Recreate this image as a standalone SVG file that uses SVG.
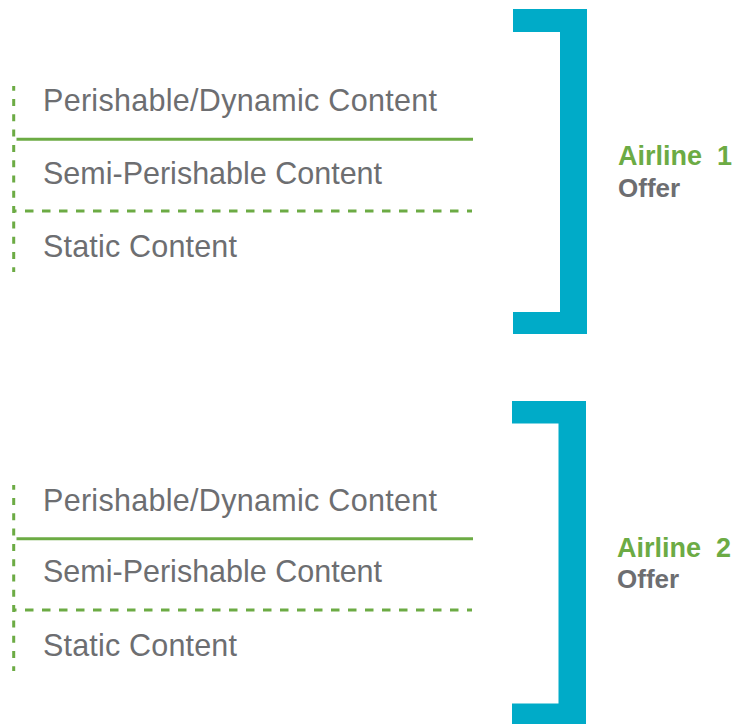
<svg xmlns="http://www.w3.org/2000/svg" width="736" height="724" viewBox="0 0 736 724">
  <style>
    .row { font-family: "Liberation Sans", Arial, sans-serif; font-size: 30.5px; fill: #6d6e71; }
    .title { font-family: "Liberation Sans", Arial, sans-serif; font-weight: bold; font-size: 27px; fill: #6cab44; }
    .offer { font-family: "Liberation Sans", Arial, sans-serif; font-weight: bold; font-size: 26px; fill: #6d6e71; }
    .solid { stroke: #6cab44; stroke-width: 3; fill: none; }
    .dash { stroke: #6cab44; stroke-width: 3; fill: none; stroke-dasharray: 8.5 8.5; stroke-dashoffset: 5; }
    .vdot { stroke: #6cab44; stroke-width: 3; fill: none; stroke-dasharray: 7 8.3; stroke-dashoffset: 2.3; }
    .bracket { fill: #00abc8; }
  </style>
  <rect width="736" height="724" fill="#ffffff"/>

  <g id="group1">
    <g id="connectors1">
      <line class="vdot" x1="13.7" y1="86" x2="13.7" y2="272"/>
      <line class="solid" x1="16.5" y1="139.3" x2="473" y2="139.3"/>
      <line class="dash" x1="13" y1="211" x2="472" y2="211"/>
    </g>
    <g id="perishable1"><text class="row" x="43" y="111" textLength="394" lengthAdjust="spacing">Perishable/Dynamic Content</text></g>
    <g id="semi1"><text class="row" x="43" y="183.5">Semi-Perishable Content</text></g>
    <g id="static1"><text class="row" x="43" y="257" textLength="194" lengthAdjust="spacing">Static Content</text></g>
    <g id="bracket1">
      <path class="bracket" d="M513 9 H587 V334 H513 V312 H560 V32 H513 Z"/>
    </g>
    <g id="offer1">
      <text class="title" x="618" y="165" xml:space="preserve">Airline  1</text>
      <text class="offer" x="618" y="196.5">Offer</text>
    </g>
  </g>

  <g id="group2">
    <g id="connectors2">
      <line class="vdot" x1="13.7" y1="485" x2="13.7" y2="671"/>
      <line class="solid" x1="16.5" y1="538.7" x2="473" y2="538.7"/>
      <line class="dash" x1="13" y1="610" x2="472" y2="610"/>
    </g>
    <g id="perishable2"><text class="row" x="43" y="510.5" textLength="394" lengthAdjust="spacing">Perishable/Dynamic Content</text></g>
    <g id="semi2"><text class="row" x="43" y="582">Semi-Perishable Content</text></g>
    <g id="static2"><text class="row" x="43" y="656" textLength="194" lengthAdjust="spacing">Static Content</text></g>
    <g id="bracket2">
      <path class="bracket" d="M512 401 H586 V724 H512 V703.5 H558.5 V423.5 H512 Z"/>
    </g>
    <g id="offer2">
      <text class="title" x="617" y="556.5" xml:space="preserve">Airline  2</text>
      <text class="offer" x="617" y="588">Offer</text>
    </g>
  </g>
</svg>
